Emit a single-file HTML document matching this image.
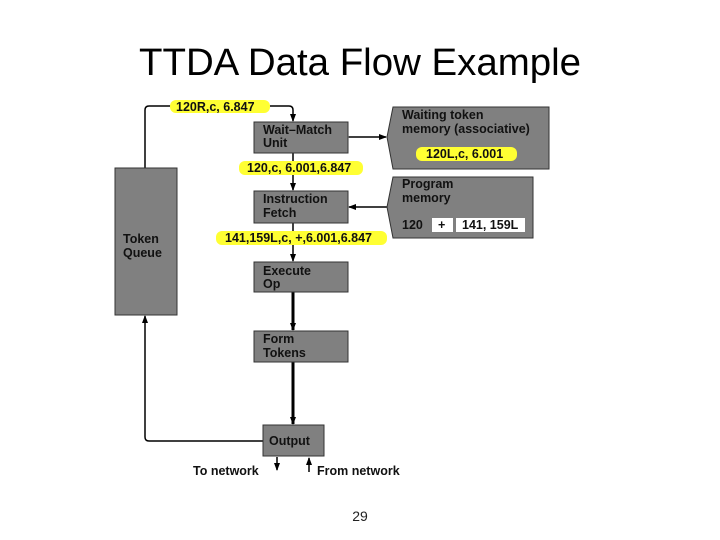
<!DOCTYPE html>
<html><head><meta charset="utf-8"><style>html,body{margin:0;padding:0;background:#fff}svg{display:block}</style></head>
<body>
<svg width="720" height="540" viewBox="0 0 720 540" xmlns="http://www.w3.org/2000/svg" font-family="Liberation Sans, Arial, sans-serif">
<defs>
<marker id="a" markerWidth="8" markerHeight="8" refX="7" refY="4" orient="auto" markerUnits="userSpaceOnUse"><path d="M0,1 L8,4 L0,7 Z" fill="#000"/></marker>
</defs>
<text x="360" y="75" text-anchor="middle" font-size="38" textLength="442" lengthAdjust="spacingAndGlyphs">TTDA Data Flow Example</text>
<g stroke="#000" stroke-width="1.5" fill="none">
<path d="M145,168 V110 Q145,106 149,106 H289 Q293,106 293,110 V121" marker-end="url(#a)"/>
<line x1="293" y1="153" x2="293" y2="190" marker-end="url(#a)"/>
<line x1="293" y1="223" x2="293" y2="261" marker-end="url(#a)"/>
<line x1="349" y1="137" x2="386" y2="137" marker-end="url(#a)" marker-start="url(#a)"/>
<line x1="387" y1="207" x2="349" y2="207" marker-end="url(#a)"/>
<path d="M263,441 H149 Q145,441 145,437 V316" marker-end="url(#a)"/>
<line x1="277" y1="457" x2="277" y2="470" marker-end="url(#a)"/>
<line x1="309" y1="472" x2="309" y2="458" marker-end="url(#a)"/>
</g>
<line x1="293" y1="292" x2="293" y2="330" stroke="#000" stroke-width="3" marker-end="url(#a)"/>
<line x1="293" y1="362" x2="293" y2="424" stroke="#000" stroke-width="3" marker-end="url(#a)"/>
<line x1="200" y1="441" x2="206" y2="441" stroke="#000" stroke-width="1"/>
<g fill="#808080" stroke="#333" stroke-width="1">
<rect x="115" y="168" width="62" height="147"/>
<rect x="254" y="122" width="94" height="31"/>
<rect x="254" y="191" width="94" height="32"/>
<rect x="254" y="262" width="94" height="30"/>
<rect x="254" y="331" width="94" height="31"/>
<rect x="263" y="425" width="61" height="31"/>
<path d="M393,107 H549 V169 H393 L387,137 Z"/>
<path d="M393,177 H533 V238 H393 L387,207 Z"/>
</g>
<g fill="#ffff33">
<rect x="170" y="100" width="100" height="13" rx="6"/>
<rect x="416" y="147" width="101" height="14" rx="6"/>
<rect x="239" y="161" width="124" height="14" rx="6"/>
<rect x="216" y="231" width="171" height="14" rx="6"/>
</g>
<rect x="432" y="218" width="21" height="14" fill="#fff"/>
<rect x="456" y="218" width="69" height="14" fill="#fff"/>
<g font-size="12.5" font-weight="bold" fill="#111">
<text x="176" y="111">120R,c, 6.847</text>
<text x="263" y="134">Wait–Match</text>
<text x="263" y="147">Unit</text>
<text x="402" y="119">Waiting token</text>
<text x="402" y="133">memory (associative)</text>
<text x="426" y="158">120L,c, 6.001</text>
<text x="247" y="172">120,c, 6.001,6.847</text>
<text x="263" y="203">Instruction</text>
<text x="263" y="217">Fetch</text>
<text x="402" y="188">Program</text>
<text x="402" y="202">memory</text>
<text x="402" y="229">120</text>
<text x="438" y="229">+</text>
<text x="462" y="229">141, 159L</text>
<text x="225" y="242">141,159L,c, +,6.001,6.847</text>
<text x="123" y="243">Token</text>
<text x="123" y="257">Queue</text>
<text x="263" y="275">Execute</text>
<text x="263" y="288">Op</text>
<text x="263" y="343">Form</text>
<text x="263" y="357">Tokens</text>
<text x="269" y="445">Output</text>
<text x="193" y="475">To network</text>
<text x="317" y="475">From network</text>
</g>
<text x="360" y="521" text-anchor="middle" font-size="14" fill="#222">29</text>
</svg>
</body></html>
